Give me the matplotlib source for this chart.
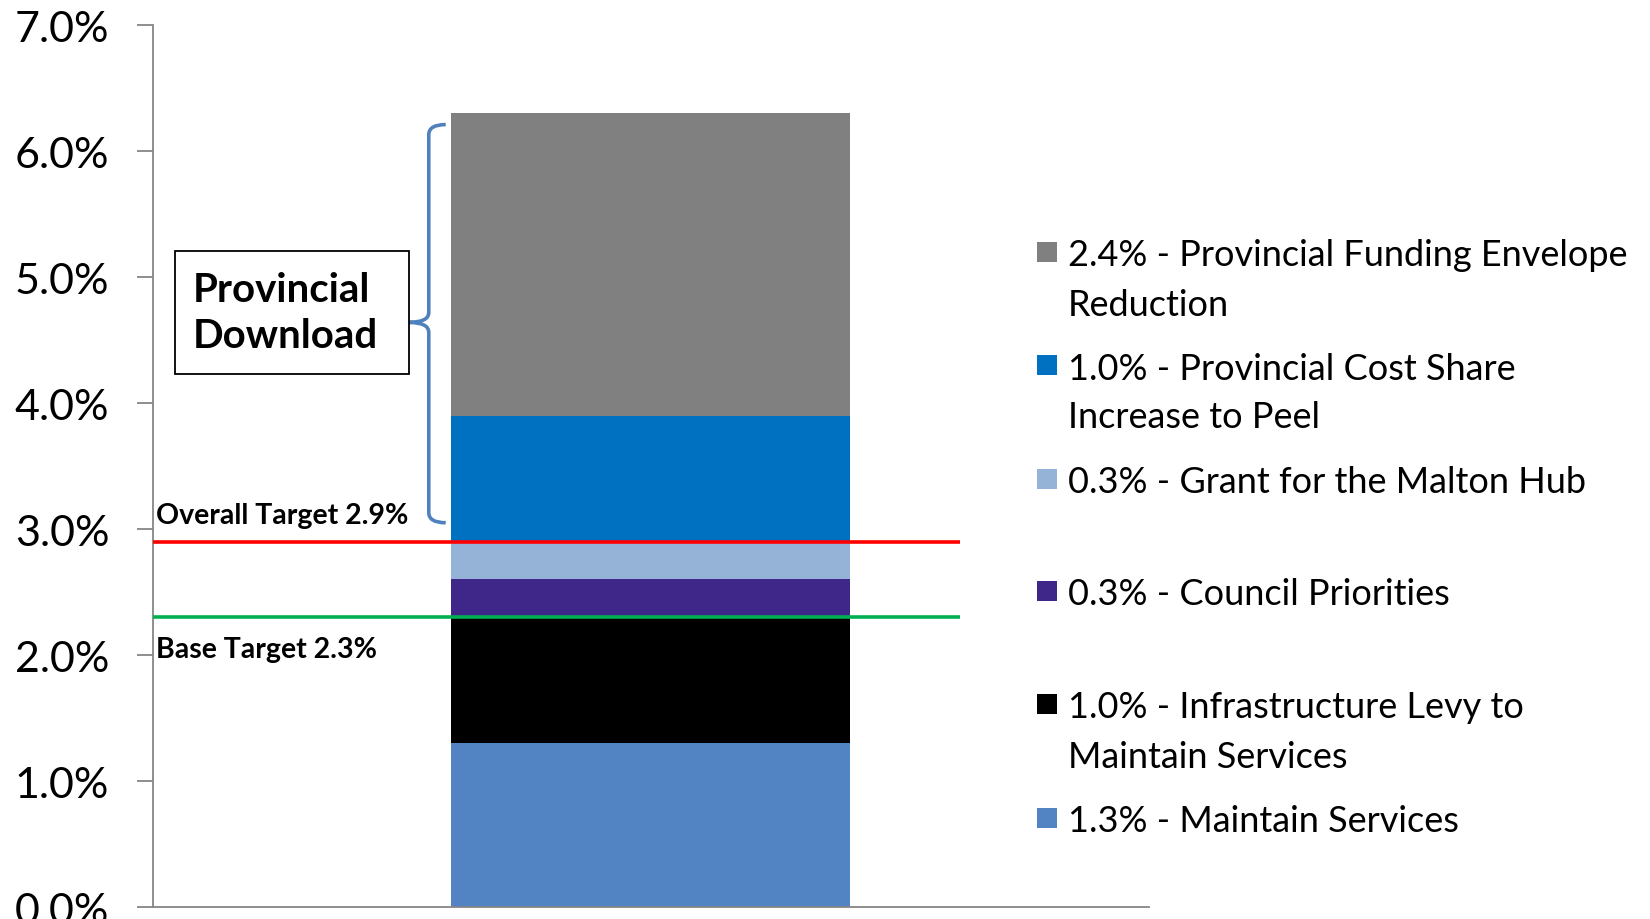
import matplotlib
matplotlib.use("Agg")
from matplotlib import pyplot as plt
from matplotlib.patches import Rectangle
from matplotlib.path import Path
from matplotlib.patches import PathPatch
from matplotlib.ticker import PercentFormatter

plt.rcParams['font.family'] = ['Lato', 'DejaVu Sans']

# stacked segments, bottom to top (percent)
values = [1.3, 1.0, 0.3, 0.3, 1.0, 2.4]
colors = ['#5284C4', '#000000', '#3F2689', '#95B3D7', '#0070C0', '#808080']
labels = ['1.3% - Maintain Services',
          '1.0% - Infrastructure Levy to\nMaintain Services',
          '0.3% - Council Priorities',
          '0.3% - Grant for the Malton Hub',
          '1.0% - Provincial Cost Share\nIncrease to Peel',
          '2.4% - Provincial Funding Envelope\nReduction']

overall_target = 2.9
base_target = 2.3
yticks = [0, 1, 2, 3, 4, 5, 6, 7]

fig = plt.figure(figsize=(16.5, 9.2), dpi=100)
ax = fig.add_axes([0.0927, 0.013, 0.6035, 0.9587])

bottom = 0
for v, c in zip(values, colors):
    ax.bar(0.5, v, width=0.401, bottom=bottom, color=c, linewidth=0)
    bottom += v

ax.set_xlim(0, 1)
ax.set_ylim(0, 7)
ax.set_yticks(yticks)
ax.yaxis.set_major_formatter(PercentFormatter(decimals=1))
ax.set_xticks([])
for s in ['top', 'right']:
    ax.spines[s].set_visible(False)
for s in ['left', 'bottom']:
    ax.spines[s].set_color('#868686')
    ax.spines[s].set_linewidth(1.3)
ax.tick_params(axis='y', length=11.5, width=1.3, color='#868686',
               labelsize=31, pad=20, labelcolor='black')

# target lines
ax.hlines(overall_target, 0, 0.81, color='#FF0000', linewidth=2.6, zorder=3)
ax.hlines(base_target, 0, 0.81, color='#00B050', linewidth=2.6, zorder=3)
ax.text(0.003, overall_target + 0.21, 'Overall Target 2.9%', fontsize=20.5,
        fontweight='bold', va='center', ha='left')
ax.text(0.003, base_target - 0.25, 'Base Target 2.3%', fontsize=20.5,
        fontweight='bold', va='center', ha='left')

# bracket for provincial download
top = sum(values) - 0.09
bot = 3.05
mid = 4.64
xb, xe, xp = 0.277, 0.294, 0.257
verts = [(xe, top), (xb, top), (xb, top - 0.08),
         (xb, mid + 0.08), (xb, mid), (xp, mid),
         (xb, mid), (xb, mid - 0.08),
         (xb, bot + 0.08), (xb, bot), (xe, bot)]
codes = [Path.MOVETO, Path.CURVE3, Path.CURVE3,
         Path.LINETO, Path.CURVE3, Path.CURVE3,
         Path.CURVE3, Path.CURVE3,
         Path.LINETO, Path.CURVE3, Path.CURVE3]
ax.add_patch(PathPatch(Path(verts, codes), facecolor='none',
                       edgecolor='#4F81BD', linewidth=2.6, zorder=4))

ax.add_patch(Rectangle((0.022, 4.23), 0.235, 0.98, facecolor='white',
                       edgecolor='black', linewidth=1.3, zorder=4))
ax.text(0.04, 4.72, 'Provincial\nDownload', fontsize=29, fontweight='bold',
        va='center', ha='left', linespacing=1.3, zorder=5)

# legend, top entry first
W, H = 1650, 920
first_y = [253, 366, 480, 592, 705, 819]
for lab, c, y in zip(labels[::-1], colors[::-1], first_y):
    fig.patches.append(Rectangle((1037 / W, 1 - (y + 10) / H), 20 / W, 20 / H,
                                 transform=fig.transFigure, facecolor=c,
                                 edgecolor='none'))
    for k, line in enumerate(lab.split('\n')):
        fig.text(1068 / W, 1 - (y + k * 49) / H, line, fontsize=26,
                 va='center_baseline', ha='left')

fig.savefig('out.png', dpi=100)
